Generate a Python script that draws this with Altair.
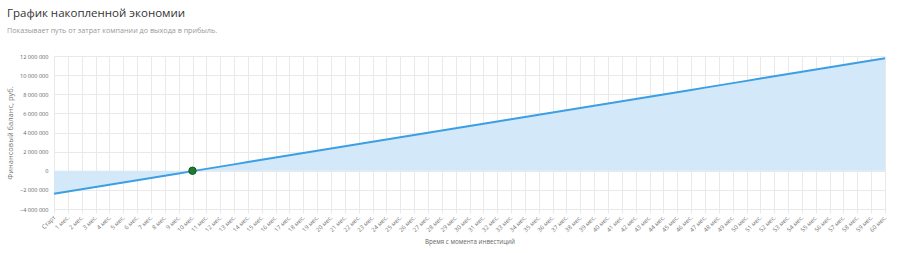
import altair as alt
import pandas as pd

months = ["Старт"] + [f"{i} мес." for i in range(1, 61)]
balance = [
    -2400000, -2164000, -1928000, -1692000, -1456000, -1220000, -984000, -748000,
    -512000, -276000, -40000, 196000, 432000, 668000, 904000, 1140000,
    1376000, 1612000, 1848000, 2084000, 2320000, 2556000, 2792000, 3028000,
    3264000, 3500000, 3736000, 3972000, 4208000, 4444000, 4680000, 4916000,
    5152000, 5388000, 5624000, 5860000, 6096000, 6332000, 6568000, 6804000,
    7040000, 7276000, 7512000, 7748000, 7984000, 8220000, 8456000, 8692000,
    8928000, 9164000, 9400000, 9636000, 9872000, 10108000, 10344000, 10580000,
    10816000, 11052000, 11288000, 11524000, 11760000,
]
breakeven_month = ["10 мес."]
breakeven_value = [0]
y_ticks = [-4000000, -2000000, 0, 2000000, 4000000, 6000000, 8000000, 10000000, 12000000]

df = pd.DataFrame({"month": months, "balance": balance, "zero": [0] * len(months)})
be = pd.DataFrame({"month": breakeven_month, "balance": breakeven_value})

FONT = "Open Sans"
GRID = "#e9e9e9"

x_enc = alt.X(
    "month:N",
    sort=months,
    scale=alt.Scale(type="point", padding=0),
    axis=alt.Axis(
        title="Время с момента инвестиций",
        titleFont=FONT, titleFontSize=6.2, titleFontWeight="normal", titleColor="#666",
        titlePadding=6,
        labelAngle=-45, labelAlign="right", labelBaseline="middle",
        labelFont=FONT, labelFontSize=6, labelColor="#777", labelPadding=3,
        labelOverlap=False,
        grid=True, gridColor=GRID, ticks=True, tickColor=GRID, tickSize=4,
        domain=False,
    ),
)
y_enc = alt.Y(
    "balance:Q",
    scale=alt.Scale(domain=[-4000000, 12000000], nice=False, zero=False),
    axis=alt.Axis(
        title="Финансовый баланс, руб.",
        titleFont=FONT, titleFontSize=7.5, titleFontWeight="normal", titleColor="#777",
        titlePadding=5,
        values=y_ticks,
        tickCount=9,
        labelOverlap=False,
        labelExpr="replace(format(datum.value, ','), regexp(',', 'g'), ' ')",
        labelFont=FONT, labelFontSize=5.6, labelColor="#666", labelPadding=6,
        grid=True, gridColor=GRID, ticks=False, domain=False,
    ),
)

base = alt.Chart(df)
area = base.mark_area(color="#d3e8f8", opacity=1).encode(
    x=x_enc, y=y_enc, y2="zero:Q",
)
line = base.mark_line(color="#3d9fe3", strokeWidth=2).encode(
    x=x_enc, y=y_enc,
)
dot = alt.Chart(be).mark_point(
    filled=True, color="#1f7a33", size=55, opacity=1, stroke="#0d5a22", strokeWidth=1
).encode(
    x=x_enc, y=y_enc,
)

chart = (
    alt.layer(area, line, dot)
    .properties(
        width=831,
        height=153,
        padding={"left": 54, "top": 56, "right": 15, "bottom": 44},
        autosize=alt.AutoSizeParams(type="none"),
        title=alt.TitleParams(
            text="График накопленной экономии",
            subtitle="Показывает путь от затрат компании до выхода в прибыль.",
            anchor="start",
            frame="group",
            font=FONT, fontSize=11.5, fontWeight="normal", color="#333",
            subtitleFont=FONT, subtitleFontSize=7.2, subtitleColor="#999",
            subtitlePadding=7,
            dx=-47,
            offset=20,
        ),
    )
    .configure_view(stroke=None)
)

chart.save("out.html", embed_options={"renderer": "svg", "actions": False})
